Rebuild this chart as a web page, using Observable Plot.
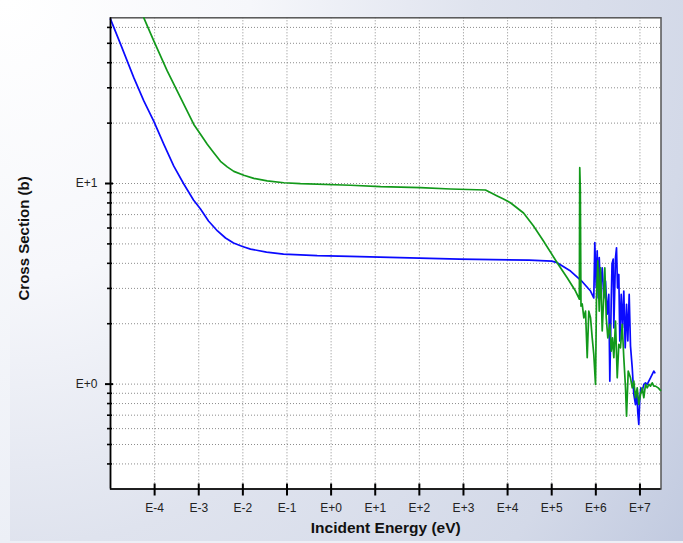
<!DOCTYPE html>
<html>
<head>
<meta charset="utf-8">
<script src="https://cdn.jsdelivr.net/npm/d3@7"></script>
<script src="https://cdn.jsdelivr.net/npm/@observablehq/plot@0.6"></script>
<style>
  html, body { margin: 0; padding: 0; }
  body {
    width: 683px; height: 543px; overflow: hidden; position: relative;
    background: linear-gradient(to bottom, #ffffff, #eceff6);
  }
  #panel {
    position: absolute; left: 10px; top: 0; width: 673px; height: 541px;
    background: radial-gradient(600px 700px at 0 0, #ffffff 0%, #f6f7fb 40%, #dfe3ee 78%, #d3d9e8 114%, #c0c9df 138%);
  }
  #chart { position: absolute; left: 0; top: 0; }
</style>
</head>
<body>
<div id="panel"></div>
<div id="chart"></div>
<script>
// Axis extents (eV and barns)
const energyDomain = [1e-5, 3e7];
const sectionDomain = [0.3, 67];

// Decade ticks and their labels
const energyTicks = [1e-4, 1e-3, 1e-2, 1e-1, 1e0, 1e1, 1e2, 1e3, 1e4, 1e5, 1e6, 1e7];
const energyTickLabels = ["E-4", "E-3", "E-2", "E-1", "E+0", "E+1", "E+2", "E+3", "E+4", "E+5", "E+6", "E+7"];
const sectionTicks = [1, 10];
const sectionTickLabels = ["E+0", "E+1"];
const sectionMinorTicks = [0.4, 0.5, 0.6, 0.7, 0.8, 0.9, 2, 3, 4, 5, 6, 7, 8, 9, 20, 30, 40, 50, 60];

// Blue curve: incident energy (eV) and cross section (b)
const blueEnergy = [
  1e-5, 1.69e-5, 3.37e-5, 5.69e-5, 9.6e-5, 1.61e-4, 2.72e-4, 4.58e-4, 7.6e-4, 1.096e-3,
  1.663e-3, 2.66e-3, 4.05e-3, 6.14e-3, 9.82e-3, 1.49e-2, 3.44e-2, 8.34e-2, 0.484, 2.67,
  36, 817, 3.1e4, 1.0e5, 1.33e5, 2.67e5, 4.99e5, 7.59e5,
  8.99e5, 9.48e5, 1.021e6, 1.074e6, 1.132e6, 1.194e6, 1.277e6, 1.396e6, 1.517e6, 1.656e6,
  1.811e6, 1.968e6, 2.075e6, 2.234e6, 2.328e6, 2.477e6, 2.559e6, 2.793e6, 2.944e6, 3.098e6,
  3.319e6, 3.499e6, 3.762e6, 4.025e6, 4.306e6, 4.634e6, 4.966e6, 5.309e6, 5.702e6, 6.109e6,
  6.683e6, 7.261e6, 7.925e6, 8.49e6, 8.95e6, 9.419e6, 9.93e6, 1.045e7, 1.125e7, 1.225e7,
  1.337e7, 1.462e7, 1.589e7, 1.734e7, 1.897e7, 2.061e7, 2.173e7
];
const blueSection = [
  66, 49.5, 33.7, 25.8, 20.4, 15.7, 12.2, 9.94, 8.27, 7.46,
  6.5, 5.8, 5.35, 5.05, 4.85, 4.71, 4.55, 4.45, 4.37, 4.33,
  4.27, 4.2, 4.15, 4.1, 4.03, 3.66, 3.23, 2.91,
  2.69, 5.07, 3.02, 4.61, 2.69, 4.27, 2.91, 3.8, 2.69, 3.26,
  2.23, 2.8, 1.035, 2.59, 3.97, 4.2, 1.909, 4.27, 4.78, 3.02,
  3.52, 1.64, 2.8, 1.909, 2.91, 1.517, 2.5, 1.64, 2.8, 1.547,
  1.206, 0.888, 0.79, 0.9, 0.72, 0.63, 0.855, 0.958, 0.923, 0.997,
  1.015, 0.997, 1.035, 1.075, 1.118, 1.161, 1.139
];

// Green curve: incident energy (eV) and cross section (b)
const greenEnergy = [
  5.69e-5, 9.57e-5, 1.93e-4, 3.86e-4, 7.73e-4, 1.096e-3, 1.56e-3, 2.19e-3, 3.11e-3, 4.42e-3,
  6.24e-3, 1.05e-2, 1.77e-2, 3.56e-2, 8.47e-2, 0.202, 2.75, 13.2, 106, 508,
  3160, 5820, 8070, 1.16e4, 2.3e4, 3.87e4, 6.5e4, 1.33e5, 2.24e5, 3.46e5,
  4.23e5, 4.32e5, 4.45e5, 4.61e5, 4.91e5, 5.35e5,
  5.84e5, 6.38e5, 6.93e5, 7.59e5, 8.28e5, 8.99e5, 9.84e5, 1.035e6, 1.109e6, 1.194e6,
  1.277e6, 1.396e6, 1.517e6, 1.6e6, 1.722e6, 1.871e6, 2.075e6, 2.234e6, 2.388e6, 2.559e6,
  2.793e6, 3.055e6, 3.319e6, 3.625e6, 3.963e6, 4.306e6, 4.71e6, 4.966e6, 5.42e6, 6.109e6,
  6.683e6, 7.261e6, 7.925e6, 8.67e6, 9.419e6, 1.03e7, 1.125e7, 1.225e7, 1.337e7, 1.462e7,
  1.589e7, 1.734e7, 1.897e7, 2.061e7, 2.254e7, 2.594e7, 2.92e7
];
const greenSection = [
  67, 51.4, 36.4, 26.8, 19.7, 17.6, 15.7, 14.25, 12.9, 12.1,
  11.5, 10.99, 10.6, 10.3, 10.09, 9.98, 9.8, 9.64, 9.53, 9.39,
  9.28, 8.67, 8.37, 8.02, 7.13, 6.14, 5.17, 4.03, 3.39, 2.91,
  2.65, 11.99, 9.39, 2.45, 2.51, 2.14,
  2.31, 1.353, 2.31, 2.14, 1.7, 1.406, 0.997, 2.69, 4.11, 2.31,
  3.8, 1.84, 2.8, 3.8, 2.14, 1.7, 1.985, 1.461, 1.7, 1.353,
  2.06, 1.075, 1.578, 1.517, 1.985, 1.353, 0.958, 0.692, 1.161, 1.075,
  0.958, 1.035, 0.855, 0.958, 0.792, 0.888, 0.958, 0.855, 0.997, 0.958,
  0.997, 0.977, 1.015, 0.977, 0.977, 0.958, 0.93
];

const blue = blueEnergy.map((e, i) => ({energy: e, section: blueSection[i]}));
const green = greenEnergy.map((e, i) => ({energy: e, section: greenSection[i]}));

const font = "'Liberation Sans', Arial, sans-serif";
const gridStyle = {stroke: "#8c8c8c", strokeDasharray: "1,2", strokeWidth: 1};

const chart = Plot.plot({
  width: 683,
  height: 543,
  marginLeft: 110,
  marginRight: 22.5,
  marginTop: 17.3,
  marginBottom: 54.5,
  style: {background: "transparent", fontFamily: font, overflow: "visible"},
  x: {type: "log", domain: energyDomain, axis: null},
  y: {type: "log", domain: sectionDomain, axis: null},
  marks: [
    Plot.frame({fill: "white", stroke: null}),
    // dotted grid
    Plot.ruleX(energyTicks, gridStyle),
    Plot.ruleY([...sectionTicks, ...sectionMinorTicks], gridStyle),
    Plot.frame({stroke: "#555", strokeWidth: 1.5}),
    // data curves
    Plot.line(blue, {x: "energy", y: "section", stroke: "#0a0aff", strokeWidth: 1.7}),
    Plot.line(green, {x: "energy", y: "section", stroke: "#12991a", strokeWidth: 1.7}),
    // axis lines
    Plot.ruleX([energyDomain[0]], {stroke: "black", strokeWidth: 1.6}),
    Plot.ruleY([sectionDomain[0]], {stroke: "black", strokeWidth: 1.6}),
    // tick marks
    Plot.axisX({ticks: energyTicks, tickSize: 12, dy: -5, text: null, label: null, stroke: "black", strokeWidth: 2}),
    Plot.axisY({ticks: sectionTicks, tickSize: 8, dx: 3, text: null, label: null, stroke: "black", strokeWidth: 2}),
    Plot.axisY({ticks: sectionMinorTicks, tickSize: 5, dx: 2, text: null, label: null, stroke: "black", strokeWidth: 1.6}),
    // tick labels
    Plot.axisX({ticks: energyTicks, tickSize: 0, tickPadding: 14, label: null,
      tickFormat: d => energyTickLabels[energyTicks.indexOf(d)], fontSize: 12, fill: "#222"}),
    Plot.axisY({ticks: sectionTicks, tickSize: 0, tickPadding: 13, label: null,
      tickFormat: d => sectionTickLabels[sectionTicks.indexOf(d)], fontSize: 12, fill: "#222"}),
    // axis titles
    Plot.text(["Incident Energy (eV)"], {frameAnchor: "bottom", dy: 39.5, lineAnchor: "middle", text: d => d,
      fontSize: 15.5, fontWeight: "bold", fill: "#111"}),
    Plot.text(["Cross Section (b)"], {frameAnchor: "left", dx: -86, dy: -15, rotate: -90, textAnchor: "middle",
      lineAnchor: "middle", text: d => d, fontSize: 15, fontWeight: "bold", fill: "#111"})
  ]
});

document.getElementById("chart").appendChild(chart);
</script>
</body>
</html>
